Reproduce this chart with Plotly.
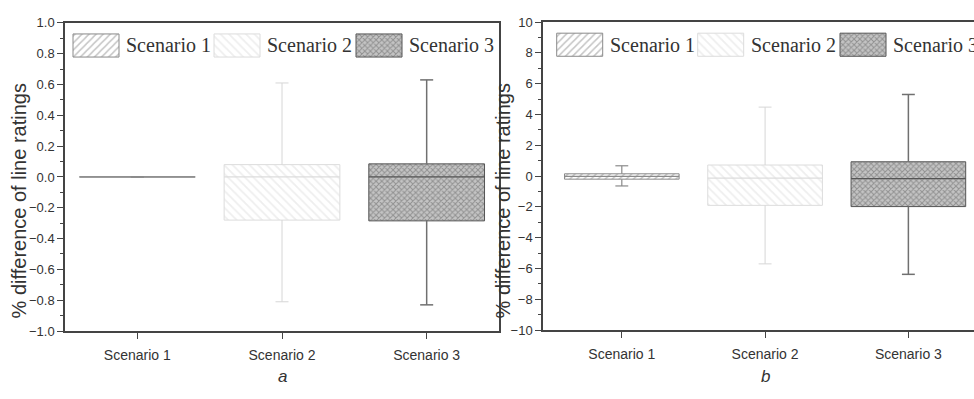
import plotly.graph_objects as go

# ---------------- data ----------------
categories = ["Scenario 1", "Scenario 2", "Scenario 3"]

a_min = [0.0, -0.81, -0.83]
a_q1 = [0.0, -0.28, -0.285]
a_med = [0.0, 0.0, 0.0]
a_q3 = [0.0, 0.08, 0.085]
a_max = [0.0, 0.61, 0.63]

b_min = [-0.64, -5.7, -6.38]
b_q1 = [-0.2, -1.9, -1.98]
b_med = [-0.02, -0.13, -0.17]
b_q3 = [0.15, 0.72, 0.93]
b_max = [0.67, 4.48, 5.3]

a_ticks = [-1.0, -0.8, -0.6, -0.4, -0.2, 0.0, 0.2, 0.4, 0.6, 0.8, 1.0]
b_ticks = [-10, -8, -6, -4, -2, 0, 2, 4, 6, 8, 10]
y_title = "% difference of line ratings"
panel_labels = ["a", "b"]

# ---------------- styles ----------------
styles = [
    dict(shape="/", fg="#8a8a8a", bg="#ffffff", size=5, sol=0.3, line="#8a8a8a", whisk="#8a8a8a", ww=1.2),
    dict(shape="\\", fg="#dedede", bg="#ffffff", size=6, sol=0.3, line="#dcdcdc", whisk="#d6d6d6", ww=1.0),
    dict(shape="x", fg="#5e5e5e", bg="#c4c4c4", size=4, sol=0.45, line="#555555", whisk="#707070", ww=1.5),
]
BOX_W = 0.8
CAP = 0.045
AX_COLOR = "#444444"
TXT = "#333333"
SANS = "Liberation Sans, Arial, sans-serif"
SERIF = "Liberation Serif, Times New Roman, serif"

W, H = 974, 399
panels = [
    dict(xd=[65 / W, 499 / W], yd=[(H - 336.7) / H, (H - 16.5) / H], xr=[-0.5, 2.5], yr=[-1.0, 1.0],
         ticks=a_ticks, fmt=".1f", minor=0.1, data=(a_min, a_q1, a_med, a_q3, a_max), mirror_y=True,
         title_x=19 / W, label_x=1.0),
    dict(xd=[543 / W, 1.0], yd=[(H - 335.7) / H, (H - 15.7) / H], xr=[-0.55, 2.458], yr=[-10, 10],
         ticks=b_ticks, fmt="d", minor=1, data=(b_min, b_q1, b_med, b_q3, b_max), mirror_y=False,
         title_x=503 / W, label_x=1.0),
]
# legend layout (pixel offsets from panel left/top)
legend_x = [[8, 149, 291], [13.7, 154.7, 297]]
SW_W, SW_H, SW_TOP = 46, 24, 11.5
TXT_GAP = 5
PANEL_LABEL_Y = (H - 384) / H
TITLE_Y = (H - 202) / H

fig = go.Figure()

for p, pan in enumerate(panels):
    xa = "x" if p == 0 else "x2"
    ya = "y" if p == 0 else "y2"
    mn, q1, md, q3, mx = pan["data"]
    xs = list(range(len(categories)))
    for i, st in enumerate(styles):
        # box
        fig.add_trace(go.Bar(
            x=[xs[i]], y=[q3[i] - q1[i]], base=[q1[i]], width=BOX_W,
            marker=dict(color=st["bg"],
                        pattern=dict(shape=st["shape"], fgcolor=st["fg"], bgcolor=st["bg"],
                                     size=st["size"], solidity=st["sol"]),
                        line=dict(color=st["line"], width=1)),
            xaxis=xa, yaxis=ya, showlegend=False, hoverinfo="skip"))
        # whiskers
        wx = [xs[i], xs[i], None, xs[i] - CAP, xs[i] + CAP, None,
              xs[i], xs[i], None, xs[i] - CAP, xs[i] + CAP]
        wy = [q3[i], mx[i], None, mx[i], mx[i], None,
              q1[i], mn[i], None, mn[i], mn[i]]
        fig.add_trace(go.Scatter(x=wx, y=wy, mode="lines",
                                 line=dict(color=st["whisk"], width=st["ww"]),
                                 xaxis=xa, yaxis=ya, showlegend=False, hoverinfo="skip"))
        # median
        fig.add_trace(go.Scatter(x=[xs[i] - BOX_W / 2, xs[i] + BOX_W / 2], y=[md[i], md[i]],
                                 mode="lines", line=dict(color=st["line"], width=1.3),
                                 xaxis=xa, yaxis=ya, showlegend=False, hoverinfo="skip"))

    # legend swatches on overlay axes
    lxa = "x3" if p == 0 else "x4"
    lya = "y3" if p == 0 else "y4"
    for i, st in enumerate(styles):
        x0 = legend_x[p][i]
        fig.add_trace(go.Bar(
            x=[x0 + SW_W / 2], y=[SW_H], base=[SW_TOP], width=SW_W,
            marker=dict(color=st["bg"],
                        pattern=dict(shape=st["shape"], fgcolor=st["fg"], bgcolor=st["bg"],
                                     size=st["size"], solidity=st["sol"]),
                        line=dict(color=st["line"], width=1)),
            xaxis=lxa, yaxis=lya, showlegend=False, hoverinfo="skip"))
        fig.add_annotation(x=x0 + SW_W + TXT_GAP, y=SW_TOP + SW_H / 2, xref=lxa, yref=lya,
                           text=categories[i], showarrow=False, xanchor="left", yanchor="middle",
                           font=dict(family=SERIF, size=20, color=TXT))

    # panel label under the middle category
    fig.add_annotation(x=pan["label_x"], y=PANEL_LABEL_Y, xref=xa, yref="paper",
                       yanchor="middle", text="<i>%s</i>" % panel_labels[p],
                       showarrow=False, font=dict(family=SANS, size=17, color=TXT))
    # y-axis title
    fig.add_annotation(x=pan["title_x"], y=TITLE_Y, xref="paper", yref="paper",
                       xanchor="center", yanchor="middle", textangle=-90, text=y_title,
                       showarrow=False, font=dict(family=SANS, size=20, color=TXT))

axis_common = dict(showline=True, linecolor=AX_COLOR, linewidth=1.5, showgrid=False, zeroline=False,
                   ticks="outside", tickcolor=AX_COLOR, ticklen=6, tickwidth=1.2,
                   tickfont=dict(family=SANS, size=13, color=TXT))

layout = dict(width=W, height=H, margin=dict(l=0, r=0, t=0, b=0),
              paper_bgcolor="white", plot_bgcolor="white", barmode="overlay",
              showlegend=False)

for p, pan in enumerate(panels):
    xk = "xaxis" if p == 0 else "xaxis2"
    yk = "yaxis" if p == 0 else "yaxis2"
    layout[xk] = dict(axis_common, domain=pan["xd"], range=pan["xr"], tickmode="array",
                      tickvals=list(range(len(categories))), ticktext=categories,
                      tickfont=dict(family=SANS, size=14, color=TXT), ticklabelstandoff=4,
                      mirror=True, anchor="y" if p == 0 else "y2")
    layout[yk] = dict(axis_common, domain=pan["yd"], range=pan["yr"], tickmode="array",
                      tickvals=pan["ticks"], tickformat=pan["fmt"], mirror=pan["mirror_y"],
                      anchor="x" if p == 0 else "x2",
                      minor=dict(ticks="outside", ticklen=3, tickcolor=AX_COLOR, dtick=pan["minor"],
                                 tick0=0, showgrid=False))

layout["xaxis3"] = dict(overlaying="x", range=[0, 434], visible=False, anchor="y3")
layout["yaxis3"] = dict(overlaying="y", range=[320.2, 0], visible=False, anchor="x3")
layout["xaxis4"] = dict(overlaying="x2", range=[0, 431], visible=False, anchor="y4")
layout["yaxis4"] = dict(overlaying="y2", range=[320, 0], visible=False, anchor="x4")

fig.update_layout(**layout)
fig.write_html("out.html")
